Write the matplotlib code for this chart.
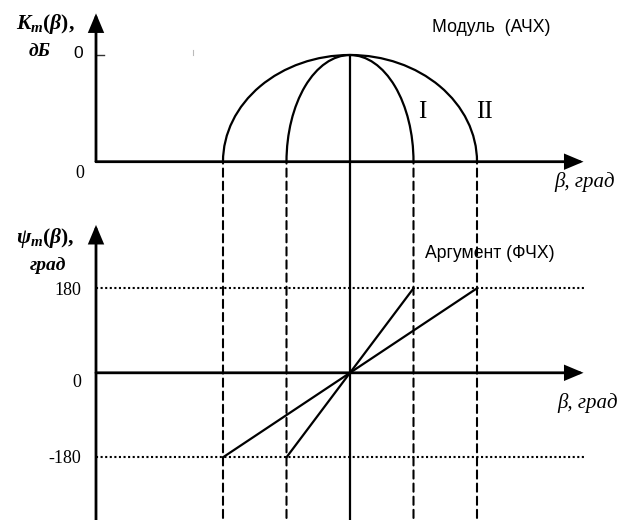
import matplotlib
matplotlib.use('Agg')
import matplotlib.pyplot as plt
from matplotlib.patches import Arc, ConnectionPatch

# ---------------- data ----------------
curve_names = ['I', 'II']
beta_half_widths = [90, 180]          # β (deg) at which |K| drops to the baseline
k_peak = 1.0                          # normalised peak of the magnitude (labelled 0 dB)
k_base = 0.0
mag_tick_label = '0'
mag_base_label = '0'
beta_I = [-90, 0, 90]
psi_I = [-180, 0, 180]
beta_II = [-180, 0, 180]
psi_II = [-180, 0, 180]
psi_tick_values = [180, 0, -180]
psi_tick_labels = ['180', '0', '-180']
title_mag = 'Модуль  (АЧХ)'
title_phase = 'Аргумент (ФЧХ)'

# ---------------- layout ----------------
W, H = 617, 520
X0 = 350.0                     # pixel x of beta = 0
PPD = 127.0 / 180.0            # pixels per degree of beta
TOP_BASE_Y = 161.7             # pixel y of magnitude baseline
PPK = 106.7                    # pixels per magnitude unit
BOT_ZERO_Y = 372.8             # pixel y of psi = 0
PPP = 169.0 / 360.0            # pixels per degree of psi
SPLIT = 200.0                  # pixel y separating the two axes

BETA_AX_START = -360
BETA_AX_END = 331
K_AX_TOP = 1.39
PSI_AX_TOP = 315

plt.rcParams['mathtext.fontset'] = 'custom'
plt.rcParams['mathtext.rm'] = 'Liberation Serif:bold'
plt.rcParams['mathtext.it'] = 'Liberation Serif:italic:bold'
plt.rcParams['mathtext.bf'] = 'Liberation Serif:bold'

fig = plt.figure(figsize=(W / 100, H / 100), dpi=100)
fig.patch.set_facecolor('white')

top = fig.add_axes([0, 1 - SPLIT / H, 1, SPLIT / H])
bot = fig.add_axes([0, 0, 1, 1 - SPLIT / H])
for ax in (top, bot):
    ax.set_xlim(-X0 / PPD, (W - X0) / PPD)
    ax.axis('off')
top.set_ylim((TOP_BASE_Y - SPLIT) / PPK, TOP_BASE_Y / PPK)
bot.set_ylim(-(H - BOT_ZERO_Y) / PPP, (BOT_ZERO_Y - SPLIT) / PPP)

AX_LW = 2.0
CURVE_LW = 1.6


def arrow(ax, start, end):
    ax.annotate('', xy=end, xytext=start,
                arrowprops=dict(arrowstyle='-|>,head_length=1.0,head_width=0.42',
                                mutation_scale=10.5, lw=AX_LW, color='black',
                                shrinkA=0, shrinkB=0, joinstyle='miter'),
                annotation_clip=False)


# ---- top panel: magnitude ----
arrow(top, (BETA_AX_START, k_base), (BETA_AX_END, k_base))
arrow(top, (BETA_AX_START, k_base), (BETA_AX_START, K_AX_TOP))
top.plot([BETA_AX_START, BETA_AX_START + 11], [k_peak, k_peak], color='#333333', lw=1.0)
for b in beta_half_widths:
    top.add_patch(Arc((0, k_base), 2 * b, 2 * (k_peak - k_base), theta1=0, theta2=180,
                      lw=CURVE_LW, color='black'))

# vertical centre line spanning both panels
fig.add_artist(ConnectionPatch(xyA=(0, k_peak), coordsA=top.transData,
                               xyB=(0, bot.get_ylim()[0]), coordsB=bot.transData,
                               lw=CURVE_LW, color='black'))
# dashed verticals spanning both panels
for b in beta_half_widths:
    for s in (-1, 1):
        fig.add_artist(ConnectionPatch(xyA=(s * b, k_base), coordsA=top.transData,
                                       xyB=(s * b, bot.get_ylim()[0]), coordsB=bot.transData,
                                       lw=1.5, color='black', linestyle=(3.0, (3.9, 2.4))))

# ---- bottom panel: phase ----
arrow(bot, (BETA_AX_START, 0), (BETA_AX_END, 0))
arrow(bot, (BETA_AX_START, bot.get_ylim()[0]), (BETA_AX_START, PSI_AX_TOP))
for v in psi_tick_values:
    if v != 0:
        bot.plot([BETA_AX_START, BETA_AX_END], [v, v], color='black', lw=1.5,
                 linestyle=(0, (1.0, 1.2)))
bot.plot(beta_I, psi_I, color='black', lw=CURVE_LW)
bot.plot(beta_II, psi_II, color='black', lw=CURVE_LW)


# ---------------- text ----------------
def fpos(x, y):
    return x / W, 1 - y / H


serif = 'Liberation Serif'
sans = 'Liberation Sans'

fig.text(*fpos(45, 24), r'$K_m(\beta),$', fontsize=15.5, ha='center', va='center')
fig.text(*fpos(40, 51), 'дБ', fontsize=14, family=serif, style='italic',
         weight='bold', ha='center', va='center')
fig.text(*fpos(78, 53), mag_tick_label, fontsize=12.5, family=sans, ha='center', va='center')
fig.text(*fpos(80, 174), mag_base_label, fontsize=13, family=serif, ha='center', va='center')
fig.text(*fpos(491, 27), title_mag, fontsize=12.7, family=sans, ha='center', va='center')
fig.text(*fpos(585, 182), 'β, град', fontsize=15, family=serif, style='italic',
         ha='center', va='center')

# curve labels next to the right-hand ends of the magnitude curves
label_x_px = [422, 484]
for name, xp in zip(curve_names, label_x_px):
    fig.text(*fpos(xp, 112), name, fontsize=18, family=serif, ha='center', va='center')

fig.text(*fpos(45, 238), r'$\psi_m(\beta),$', fontsize=15.5, ha='center', va='center')
fig.text(*fpos(48, 265), 'град', fontsize=14, family=serif, style='italic',
         weight='bold', ha='center', va='center')
fig.text(*fpos(490, 254), title_phase, fontsize=12.7, family=sans, ha='center', va='center')
fig.text(*fpos(588, 403), 'β, град', fontsize=15, family=serif, style='italic',
         ha='center', va='center')

label_dy = {180: 2, 0: 10, -180: 1}
for v, lab in zip(psi_tick_values, psi_tick_labels):
    y_px = BOT_ZERO_Y - v * PPP + label_dy[v]
    fig.text(*fpos(81, y_px), lab, fontsize=13, family=serif, ha='right', va='center')

# faint scan artifact near the top of the magnitude panel
fig.add_artist(plt.Line2D([193 / W, 193 / W], [1 - 50 / H, 1 - 55 / H], color='#bbbbbb', lw=0.8))

fig.savefig('out.png', dpi=100, facecolor='white')
